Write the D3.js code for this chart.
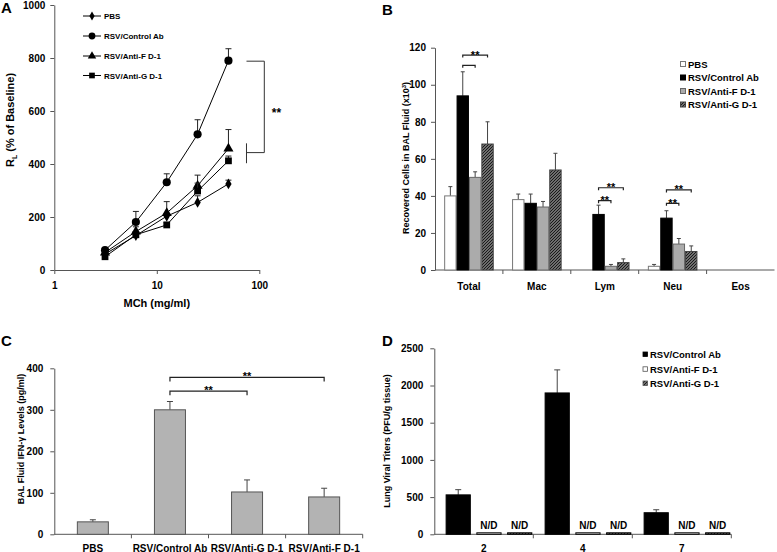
<!DOCTYPE html>
<html><head><meta charset="utf-8">
<script src="https://cdn.jsdelivr.net/npm/d3@7"></script>
<style>
body{margin:0;background:#fff;}
text{font-family:"Liberation Sans",Arial,sans-serif;font-weight:bold;fill:#000;}
</style></head>
<body>
<script>
// ---------- DATA ----------
// Panel A
const aDoses = [3.125, 6.25, 12.5, 25, 50];
const aSeriesNames = ["PBS", "RSV/Control Ab", "RSV/Anti-F D-1", "RSV/Anti-G D-1"];
const aPBS = [60, 130, 203, 255, 325];
const aPBSErr = [4, 6, 10, 25, 14];
const aControl = [75, 181, 331, 512, 790];
const aControlErr = [6, 40, 32, 55, 45];
const aAntiF = [66, 145, 215, 318, 458];
const aAntiFErr = [5, 18, 43, 40, 72];
const aAntiG = [50, 133, 170, 298, 412];
const aAntiGErr = [4, 8, 10, 30, 18];
const aXTicks = [1, 10, 100];
const aYTicks = [0, 200, 400, 600, 800, 1000];

// Panel B
const bCategories = ["Total", "Mac", "Lym", "Neu", "Eos"];
const bSeriesNames = ["PBS", "RSV/Control Ab", "RSV/Anti-F D-1", "RSV/Anti-G D-1"];
const bPBS = [40, 38, 0, 2, 0];
const bPBSErr = [5, 3, 0, 1, 0];
const bControl = [94, 36, 30, 28, 0];
const bControlErr = [13, 5, 5, 4, 0];
const bAntiF = [50, 34, 2, 14, 0];
const bAntiFErr = [3, 3, 1, 3, 0];
const bAntiG = [68, 54, 4, 10, 0];
const bAntiGErr = [12, 9, 2, 3, 0];
const bYTicks = [0, 20, 40, 60, 80, 100, 120];
// brackets: category, from series idx, to series idx, y level, label
const bBrackets = [
  {cat:"Total", from:1, to:3, y:116, label:"**"},
  {cat:"Total", from:1, to:2, y:110.5, label:""},
  {cat:"Lym", from:1, to:3, y:44.4, label:"**"},
  {cat:"Lym", from:1, to:2, y:37.4, label:"**"},
  {cat:"Neu", from:1, to:3, y:43.2, label:"**"},
  {cat:"Neu", from:1, to:2, y:36, label:"**"}
];

// Panel C
const cCategories = ["PBS", "RSV/Control Ab", "RSV/Anti-G D-1", "RSV/Anti-F D-1"];
const cValues = [30, 300, 102, 90];
const cErr = [5, 20, 29, 21];
const cYTicks = [0, 100, 200, 300, 400];
const cBrackets = [
  {from:"RSV/Control Ab", to:"RSV/Anti-F D-1", y:378, label:"**"},
  {from:"RSV/Control Ab", to:"RSV/Anti-G D-1", y:345, label:"**"}
];

// Panel D
const dDays = ["2", "4", "7"];
const dSeriesNames = ["RSV/Control Ab", "RSV/Anti-F D-1", "RSV/Anti-G D-1"];
const dControl = [530, 1900, 290];
const dControlErr = [70, 310, 40];
const dAntiF = [20, 20, 20];
const dAntiG = [20, 20, 20];
const dNDLabel = "N/D";
const dYTicks = [0, 500, 1000, 1500, 2000, 2500];

// ---------- DRAWING ----------
const W = 777, H = 552;
const fmt = d3.format("d");
const svg = d3.select("body").append("svg").attr("width", W).attr("height", H);
const defs = svg.append("defs");
const pat = defs.append("pattern").attr("id","hatch").attr("patternUnits","userSpaceOnUse")
  .attr("width",3).attr("height",3);
pat.append("rect").attr("width",3).attr("height",3).attr("fill","#6e6e6e");
pat.append("path").attr("d","M-1,1 l2,-2 M0,3 l3,-3 M2,4 l2,-2").attr("stroke","#111").attr("stroke-width",0.9);

const AX = "#555";
function styleAxis(g, fs){
  g.select(".domain").attr("stroke", AX).attr("stroke-width",1);
  g.selectAll(".tick line").attr("stroke", AX);
  g.selectAll(".tick text").attr("font-size", fs).attr("font-family",'"Liberation Sans",Arial,sans-serif').attr("font-weight","bold").attr("fill","#000");
}
function panelLetter(t, x, y){
  svg.append("text").attr("x",x).attr("y",y).attr("font-size",15).text(t);
}

// ===== Panel A =====
panelLetter("A", 1, 13);
const xA = d3.scaleLog().domain([1,100]).range([54.3,259.3]);
const yA = d3.scaleLinear().domain([0,1000]).range([270,5]);
const gA = svg.append("g");
gA.append("g").attr("transform","translate(54.3,0)")
  .call(d3.axisLeft(yA).tickValues(aYTicks).tickFormat(fmt).tickSize(4).tickPadding(5).tickSizeOuter(0))
  .call(g=>styleAxis(g,10));
gA.append("g").attr("transform","translate(0,270)")
  .call(d3.axisBottom(xA).tickValues(aXTicks).tickFormat(fmt).tickSize(4).tickPadding(8).tickSizeOuter(0))
  .call(g=>styleAxis(g,10));
gA.append("text").attr("x",156.8).attr("y",307).attr("text-anchor","middle").attr("font-size",11).text("MCh (mg/ml)");
const ylA = gA.append("text").attr("transform","translate(14,120) rotate(-90)").attr("text-anchor","middle").attr("font-size",11);
ylA.append("tspan").text("R");
ylA.append("tspan").attr("font-size",7).attr("dy",3).text("L");
ylA.append("tspan").attr("dy",-3).text(" (% of Baseline)");

const aSeries = [
  {name:aSeriesNames[0], v:aPBS, e:aPBSErr, sym:d3.symbolDiamond, size:34},
  {name:aSeriesNames[1], v:aControl, e:aControlErr, sym:d3.symbolCircle, size:52},
  {name:aSeriesNames[2], v:aAntiF, e:aAntiFErr, sym:d3.symbolTriangle, size:44},
  {name:aSeriesNames[3], v:aAntiG, e:aAntiGErr, sym:d3.symbolSquare, size:46}
];
const lineA = d3.line().x((d,i)=>xA(aDoses[i])).y(d=>yA(d));
aSeries.forEach(s=>{
  const g = gA.append("g");
  s.v.forEach((v,i)=>{
    const x = xA(aDoses[i]);
    g.append("line").attr("x1",x).attr("x2",x).attr("y1",yA(v)).attr("y2",yA(v+s.e[i])).attr("stroke","#222");
    g.append("line").attr("x1",x-3).attr("x2",x+3).attr("y1",yA(v+s.e[i])).attr("y2",yA(v+s.e[i])).attr("stroke","#222");
  });
  g.append("path").datum(s.v).attr("d",lineA).attr("fill","none").attr("stroke","#000").attr("stroke-width",1);
  g.selectAll("path.m").data(s.v).join("path").attr("class","m")
    .attr("transform",(d,i)=>`translate(${xA(aDoses[i])},${yA(d)})`)
    .attr("d",d3.symbol().type(s.sym).size(s.size)).attr("fill","#000");
});
// legend A
const legAy = [16, 36, 56, 75.5];
aSeries.forEach((s,i)=>{
  const y = legAy[i];
  gA.append("line").attr("x1",83).attr("x2",101).attr("y1",y).attr("y2",y).attr("stroke","#000");
  gA.append("path").attr("transform",`translate(92,${y})`).attr("d",d3.symbol().type(s.sym).size(s.size*0.7)).attr("fill","#000");
  gA.append("text").attr("x",104).attr("y",y+3).attr("font-size",8).text(s.name);
});
// bracket A
{
  const xr = xA.range()[1]+5, xl = xA(75);
  const yt = yA(788), yb = yA(443);
  gA.append("path").attr("d",`M${xl},${yt}H${xr}V${yb}H${xl}`).attr("fill","none").attr("stroke","#333");
  gA.append("line").attr("x1",xl).attr("x2",xl).attr("y1",yA(478)).attr("y2",yA(403)).attr("stroke","#333");
  gA.append("text").attr("x",276.5).attr("y",117).attr("text-anchor","middle").attr("font-size",12).text("**");
}

// ===== Panel B =====
panelLetter("B", 382, 15);
const xB = d3.scaleBand().domain(bCategories).range([435,774.5]);
const yB = d3.scaleLinear().domain([0,120]).range([270,47.7]);
const gB = svg.append("g");
gB.append("g").attr("transform","translate(435,0)")
  .call(d3.axisLeft(yB).tickValues(bYTicks).tickFormat(fmt).tickSize(4).tickPadding(5).tickSizeOuter(0))
  .call(g=>styleAxis(g,10));
gB.append("line").attr("x1",435).attr("x2",774.5).attr("y1",270).attr("y2",270).attr("stroke",AX);
bCategories.slice(1).forEach(c=>{
  gB.append("line").attr("x1",xB(c)).attr("x2",xB(c)).attr("y1",270).attr("y2",274).attr("stroke",AX);
});
bCategories.forEach(c=>{
  gB.append("text").attr("x",xB(c)+xB.bandwidth()/2).attr("y",289.5).attr("text-anchor","middle").attr("font-size",10).text(c);
});
const ylB = gB.append("text").attr("transform","translate(408.5,158) rotate(-90)").attr("text-anchor","middle").attr("font-size",9);
ylB.append("tspan").text("Recovered Cells in BAL Fluid (x10");
ylB.append("tspan").attr("font-size",6).attr("dy",-3).text("3");
ylB.append("tspan").attr("dy",3).text(")");

const xBi = d3.scaleBand().domain(d3.range(4)).range([0,xB.bandwidth()]).paddingOuter(0.74);
const bSeries = [
  {name:bSeriesNames[0], v:bPBS, e:bPBSErr, fill:"#fff", stroke:"#777"},
  {name:bSeriesNames[1], v:bControl, e:bControlErr, fill:"#000", stroke:"#000"},
  {name:bSeriesNames[2], v:bAntiF, e:bAntiFErr, fill:"#ababab", stroke:"#666"},
  {name:bSeriesNames[3], v:bAntiG, e:bAntiGErr, fill:"url(#hatch)", stroke:"#444"}
];
bSeries.forEach((s,si)=>{
  s.v.forEach((v,ci)=>{
    const c = bCategories[ci];
    const x0 = xB(c)+xBi(si), w = xBi.bandwidth();
    if(v>0){
      const xc = x0+w/2;
      gB.append("line").attr("x1",xc).attr("x2",xc).attr("y1",yB(v)).attr("y2",yB(v+s.e[ci])).attr("stroke","#444");
      gB.append("line").attr("x1",xc-2).attr("x2",xc+2).attr("y1",yB(v+s.e[ci])).attr("y2",yB(v+s.e[ci])).attr("stroke","#444");
      gB.append("rect").attr("x",x0+0.5).attr("y",yB(v)).attr("width",w-1).attr("height",yB(0)-yB(v))
        .attr("fill",s.fill).attr("stroke",s.stroke).attr("stroke-width",1);
    }
  });
});
bBrackets.forEach(b=>{
  const x1 = xB(b.cat)+xBi(b.from)+xBi.bandwidth()/2;
  const x2 = xB(b.cat)+xBi(b.to)+xBi.bandwidth()/2;
  const y = yB(b.y);
  gB.append("path").attr("d",`M${x1},${y+2.5}V${y}H${x2}V${y+2.5}`).attr("fill","none").attr("stroke","#222").attr("stroke-width",1.2);
  if(b.label) gB.append("text").attr("x",(x1+x2)/2).attr("y",y+3.5).attr("text-anchor","middle").attr("font-size",11).text(b.label);
});
// legend B
const legBy = [64.5, 78, 91.5, 105];
bSeries.forEach((s,i)=>{
  gB.append("rect").attr("x",680.5).attr("y",legBy[i]-3).attr("width",5).attr("height",5)
    .attr("fill",s.fill).attr("stroke",s.stroke);
  gB.append("text").attr("x",688).attr("y",legBy[i]+3.3).attr("font-size",9.5).text(s.name);
});

// ===== Panel C =====
panelLetter("C", 1, 346);
const xC = d3.scaleBand().domain(cCategories).range([54.3,362.7]);
const yC = d3.scaleLinear().domain([0,400]).range([534.3,368.3]);
const gC = svg.append("g");
gC.append("g").attr("transform","translate(54.3,0)")
  .call(d3.axisLeft(yC).tickValues(cYTicks).tickFormat(fmt).tickSize(4).tickPadding(7).tickSizeOuter(0))
  .call(g=>styleAxis(g,10));
gC.append("line").attr("x1",54.3).attr("x2",362.7).attr("y1",534.3).attr("y2",534.3).attr("stroke",AX);
cCategories.slice(1).concat([null]).forEach(c=>{
  const x = c ? xC(c) : xC.range()[1];
  gC.append("line").attr("x1",x).attr("x2",x).attr("y1",534.3).attr("y2",538.3).attr("stroke",AX);
});
cCategories.forEach(c=>{
  gC.append("text").attr("x",xC(c)+xC.bandwidth()/2).attr("y",551.5).attr("text-anchor","middle").attr("font-size",10).text(c);
});
gC.append("text").attr("transform","translate(24,439) rotate(-90)").attr("text-anchor","middle").attr("font-size",9)
  .text("BAL Fluid IFN-γ Levels (pg/ml)");
const cW = 31;
cCategories.forEach((c,i)=>{
  const xc = xC(c)+xC.bandwidth()/2, v = cValues[i];
  gC.append("line").attr("x1",xc).attr("x2",xc).attr("y1",yC(v)).attr("y2",yC(v+cErr[i])).attr("stroke","#444");
  gC.append("line").attr("x1",xc-3).attr("x2",xc+3).attr("y1",yC(v+cErr[i])).attr("y2",yC(v+cErr[i])).attr("stroke","#444");
  gC.append("rect").attr("x",xc-cW/2).attr("y",yC(v)).attr("width",cW).attr("height",yC(0)-yC(v))
    .attr("fill","#b3b3b3").attr("stroke","#555");
});
cBrackets.forEach(b=>{
  const x1 = xC(b.from)+xC.bandwidth()/2, x2 = xC(b.to)+xC.bandwidth()/2, y = yC(b.y);
  gC.append("path").attr("d",`M${x1},${y+4}V${y}H${x2}V${y+4}`).attr("fill","none").attr("stroke","#222").attr("stroke-width",1.2);
  gC.append("text").attr("x",(x1+x2)/2).attr("y",y+2.5).attr("text-anchor","middle").attr("font-size",11).text(b.label);
});

// ===== Panel D =====
panelLetter("D", 382, 346);
const xD = d3.scaleBand().domain(dDays).range([434.3,731.3]);
const yD = d3.scaleLinear().domain([0,2500]).range([534.3,348.3]);
const gD = svg.append("g");
gD.append("g").attr("transform","translate(434.3,0)")
  .call(d3.axisLeft(yD).tickValues(dYTicks).tickFormat(fmt).tickSize(4).tickPadding(7).tickSizeOuter(0))
  .call(g=>styleAxis(g,10));
gD.append("line").attr("x1",434.3).attr("x2",731.3).attr("y1",534.3).attr("y2",534.3).attr("stroke",AX);
dDays.slice(1).concat([null]).forEach(c=>{
  const x = c ? xD(c) : xD.range()[1];
  gD.append("line").attr("x1",x).attr("x2",x).attr("y1",534.3).attr("y2",538.3).attr("stroke",AX);
});
dDays.forEach(c=>{
  gD.append("text").attr("x",xD(c)+xD.bandwidth()/2).attr("y",551.5).attr("text-anchor","middle").attr("font-size",10).attr("font-weight","normal").text(c);
});
gD.append("text").attr("transform","translate(390,441) rotate(-90)").attr("text-anchor","middle").attr("font-size",9)
  .text("Lung Viral Titers (PFU/g tissue)");
const xDi = d3.scaleBand().domain(d3.range(3)).range([0,xD.bandwidth()]).paddingInner(0.18).paddingOuter(0.2).align(0.92);
const dSeries = [
  {name:dSeriesNames[0], v:dControl, e:dControlErr, fill:"#000", stroke:"#000", nd:false},
  {name:dSeriesNames[1], v:dAntiF, e:null, fill:"#fff", stroke:"#000", nd:true},
  {name:dSeriesNames[2], v:dAntiG, e:null, fill:"url(#hatch)", stroke:"#000", nd:true}
];
dSeries.forEach((s,si)=>{
  s.v.forEach((v,ci)=>{
    const x0 = xD(dDays[ci])+xDi(si), w = xDi.bandwidth(), xc = x0+w/2;
    if(s.e){
      gD.append("line").attr("x1",xc).attr("x2",xc).attr("y1",yD(v)).attr("y2",yD(v+s.e[ci])).attr("stroke","#444");
      gD.append("line").attr("x1",xc-3).attr("x2",xc+3).attr("y1",yD(v+s.e[ci])).attr("y2",yD(v+s.e[ci])).attr("stroke","#444");
    }
    gD.append("rect").attr("x",x0+0.5).attr("y",yD(v)).attr("width",w-1).attr("height",yD(0)-yD(v))
      .attr("fill",s.fill).attr("stroke",s.stroke);
    if(s.nd){
      gD.append("text").attr("x",xc).attr("y",529).attr("text-anchor","middle").attr("font-size",10).text(dNDLabel);
    }
  });
});
const legDy = [354.5, 369.3, 383.5];
dSeries.forEach((s,i)=>{
  gD.append("rect").attr("x",643).attr("y",legDy[i]-2.5).attr("width",4.5).attr("height",4.5)
    .attr("fill",s.fill).attr("stroke",i===0?"#000":"#555").attr("stroke-width",0.8);
  gD.append("text").attr("x",650).attr("y",legDy[i]+3.3).attr("font-size",9.5).text(s.name);
});
</script>
</body></html>
